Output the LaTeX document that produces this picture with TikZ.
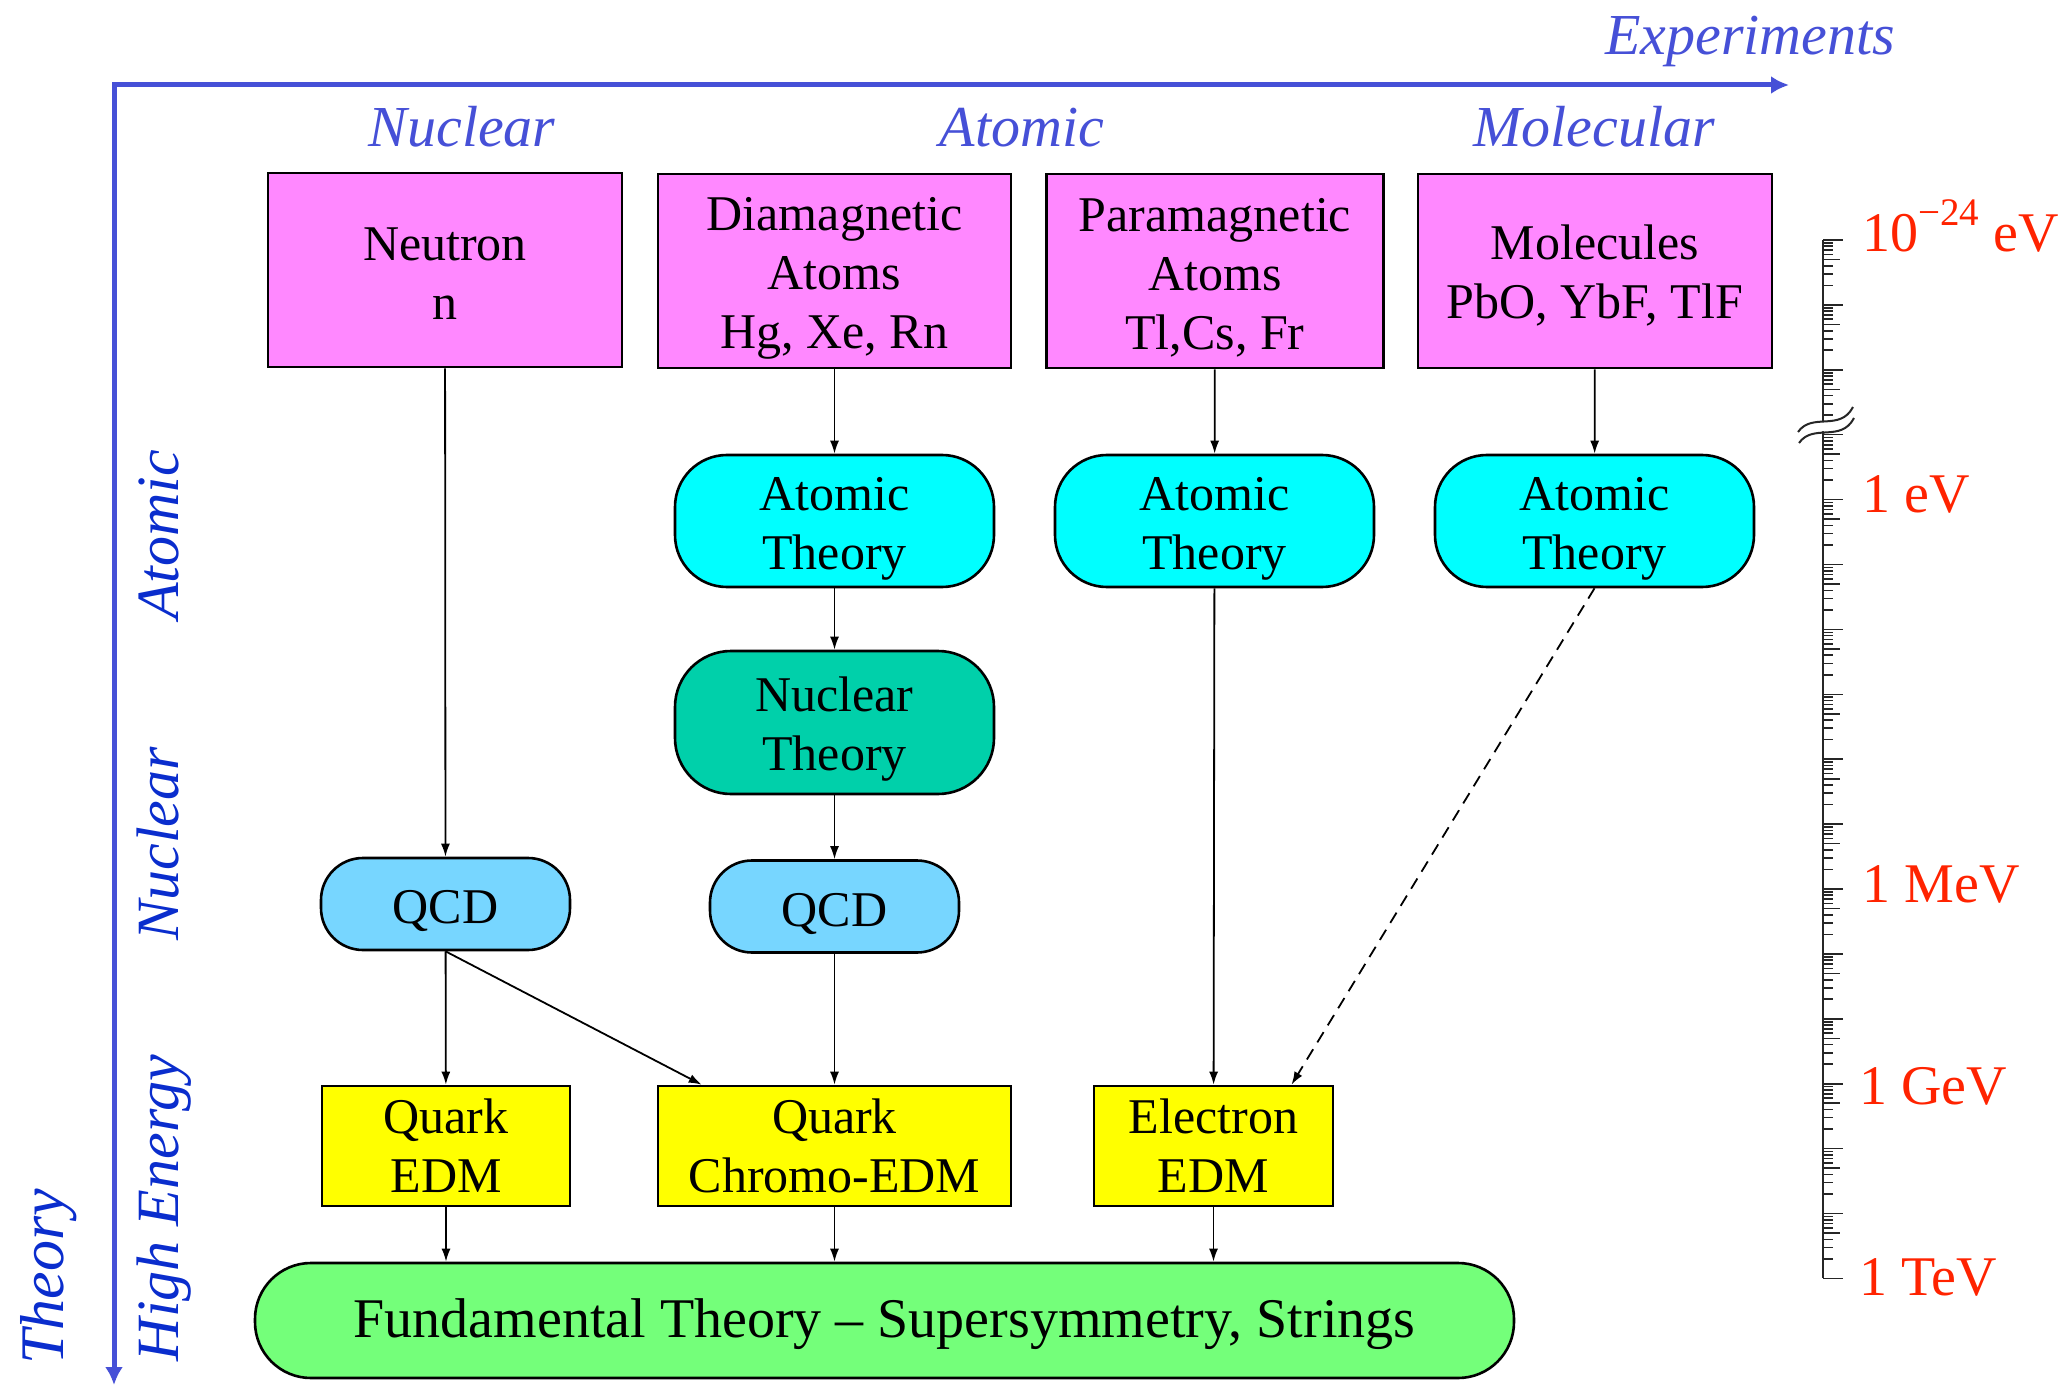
\documentclass[tikz,border=0pt]{standalone}
\usepackage{fontspec}
\setmainfont{Liberation Serif}
\usetikzlibrary{arrows.meta}
\definecolor{pinkbox}{RGB}{255,136,255}
\definecolor{cyanbox}{RGB}{0,255,255}
\definecolor{nucbox}{RGB}{0,208,170}
\definecolor{qcdbox}{RGB}{119,214,255}
\definecolor{edmbox}{RGB}{255,255,0}
\definecolor{fundbox}{RGB}{116,255,122}
\definecolor{axblue}{RGB}{70,80,215}
\definecolor{vblue}{RGB}{10,45,205}
\definecolor{scred}{RGB}{255,35,0}
\newcommand{\bxfont}{\fontsize{25}{29.5}\selectfont}
\newcommand{\tup}[1]{\rule{0pt}{#1}}

\begin{document}
\begin{tikzpicture}[x=0.5pt,y=-0.5pt,
  box/.style={draw,line width=1.3pt,align=center,inner sep=0pt,font=\bxfont},
  expt/.style={box,fill=pinkbox,minimum height=97pt},
  atth/.style={box,fill=cyanbox,rounded corners=26pt,minimum width=159.5pt,minimum height=66pt},
  qcd/.style={box,fill=qcdbox,rounded corners=21pt,minimum width=124.5pt,minimum height=46pt},
  edm/.style={box,fill=edmbox,minimum height=60pt},
  con/.style={-{Latex[length=6.5pt,width=4.5pt]},line width=0.9pt},
  toplab/.style={font=\fontsize{29}{29}\selectfont\itshape,text=axblue,anchor=base,inner sep=0pt},
  sidelab/.style={font=\fontsize{30}{30}\selectfont\itshape,text=vblue,anchor=base,rotate=90,inner sep=0pt},
  enlab/.style={font=\fontsize{28}{28}\selectfont,text=scred,anchor=base west,inner sep=0pt},
  tick/.style={line width=0.8pt,black!85}]
\useasboundingbox (0,0) rectangle (2072,1385);

\draw[line width=2.5pt,axblue,line join=miter,{Latex[length=9pt,width=9pt]}-{Latex[length=9pt,width=9pt]}]
  (1789,85) -- (114,85) -- (114,1385);
\node[toplab] (exp) at (1750,55) {Experiments};
\node[toplab] (lnuc) at (462,147) {Nuclear};
\node[toplab] (lat) at (1022,147) {Atomic};
\node[toplab] (lmol) at (1594,147) {Molecular};
\node[sidelab] (vat) at (178,535) {Atomic};
\node[sidelab] (vnuc) at (178,844) {Nuclear};
\node[sidelab] (vhe) at (178,1208) {High Energy};
\node[sidelab,font=\fontsize{31}{31}\selectfont\itshape] (vth) at (63,1277) {Theory};

\node[expt,minimum width=177pt] (n) at (445,270) {\tup{19.6pt}Neutron\\n};
\node[expt,minimum width=176.5pt] (dia) at (834.5,271) {\tup{23.6pt}Diamagnetic\\Atoms\\Hg, Xe, Rn};
\node[expt,minimum width=168.5pt] (para) at (1215,271) {\tup{23.6pt}Paramagnetic\\Atoms\\Tl,Cs, Fr};
\node[expt,minimum width=177pt] (mol) at (1595,271) {\tup{22.3pt}Molecules\\PbO, YbF, TlF};

\node[atth] (at1) at (834.5,521) {\tup{24pt}Atomic\\Theory};
\node[atth] (at2) at (1214.5,521) {\tup{24pt}Atomic\\Theory};
\node[atth] (at3) at (1594.5,521) {\tup{24pt}Atomic\\Theory};
\node[box,fill=nucbox,rounded corners=28pt,minimum width=159.5pt,minimum height=71.5pt] (nt) at (834.5,722.5) {\tup{24pt}Nuclear\\Theory};

\node[qcd] (q1) at (445.5,904) {\tup{24pt}QCD};
\node[qcd] (q2) at (834.5,906.5) {\tup{24pt}QCD};

\node[edm,minimum width=124pt] (qe) at (446,1146) {Quark\\EDM};
\node[edm,minimum width=176.5pt] (qc) at (834.5,1146) {Quark\\Chromo-EDM};
\node[edm,minimum width=119.5pt] (ee) at (1213.5,1146) {Electron\\EDM};

\node[box,fill=fundbox,rounded corners=28pt,minimum width=629.5pt,minimum height=57.5pt,
  font=\fontsize{28}{28}\selectfont] (f) at (884.5,1320.5) {\tup{23pt}Fundamental Theory – Supersymmetry, Strings};

\draw[con] (n) -- (q1);
\draw[con] (dia) -- (at1);
\draw[con] (at1) -- (nt);
\draw[con] (nt) -- (q2);
\draw[con] (q2) -- (qc);
\draw[con] (para) -- (at2);
\draw[con] (at2) -- (ee);
\draw[con] (mol) -- (at3);
\draw[con,dashed,dash pattern=on 6pt off 4pt] (at3.south) -- ([xshift=39pt]ee.north);
\draw[con] (q1) -- (qe);
\draw[con] (q1.south) -- ([xshift=22.5pt]qc.north west);
\draw[con] (qe) -- (qe |- f.north);
\draw[con] (qc) -- (qc |- f.north);
\draw[con] (ee) -- (ee |- f.north);

\draw[line width=1pt,black!85] (1823,240) -- (1823,1278.4);
\foreach \d in {0,...,16}
  \draw[tick] (1823,{240+64.9*\d}) -- ++(20,0);
\foreach \d in {0,...,15}
  \foreach \k in {2,...,9}
    \draw[tick] (1823,{240+64.9*(\d+1-log10(\k))}) -- ++({\k==5 ? 17 : 10},0);
\draw[white,line width=4.5pt] (1799,437) .. controls (1813,417) and (1841,437) .. (1853,413);
\draw[line width=1pt,black!85] (1798,432) .. controls (1812,412) and (1840,432) .. (1853,407);
\draw[line width=1pt,black!85] (1799,443) .. controls (1813,423) and (1841,443) .. (1854,418);

\node[enlab] (s24) at (1862,252) {10\raisebox{13pt}{\fontsize{19.5}{19.5}\selectfont −24} eV};
\node[enlab] (s0) at (1862,512) {1 eV};
\node[enlab] (smev) at (1862,902) {1 MeV};
\node[enlab] (sgev) at (1859,1104) {1 GeV};
\node[enlab] (stev) at (1859,1295) {1 TeV};
\end{tikzpicture}
\end{document}
